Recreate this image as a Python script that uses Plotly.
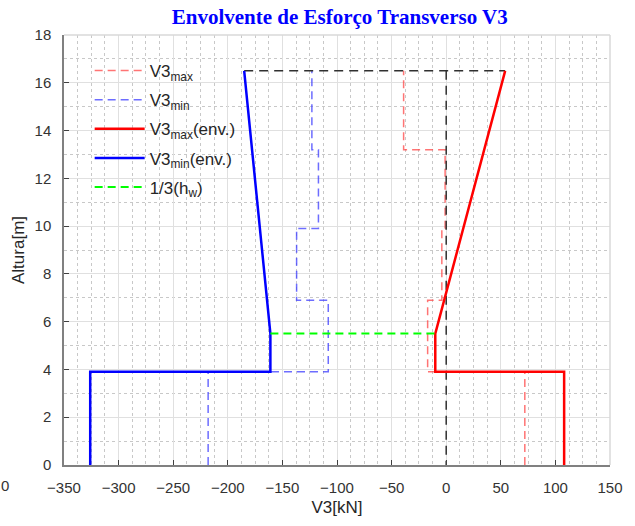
import plotly.graph_objects as go

# Data
v3max_y = [0, 3.9, 3.9, 6.9, 6.9, 9.9, 9.9, 13.2, 13.2, 16.5]
v3max_x = [72, 72, -17, -17, -4, -4, -1, -1, -39, -39]
v3min_y = [0, 3.9, 3.9, 6.9, 6.9, 9.9, 9.9, 13.2, 13.2, 16.5]
v3min_x = [-218, -218, -108, -108, -137, -137, -117, -117, -123, -123]
envmax_y = [0, 3.9, 3.9, 5.5, 16.5]
envmax_x = [108, 108, -10, -10, 54]
envmin_y = [0, 3.9, 3.9, 5.5, 16.5]
envmin_x = [-326, -326, -161, -161, -185]
hw_y = [5.5, 5.5]
hw_x = [-161, -10]
ref_x = [-185, 54, None, 0, 0]
ref_y = [16.5, 16.5, None, 16.5, 0]

FONT = "Liberation Sans, Arial"
fig = go.Figure()
fig.add_trace(go.Scatter(x=v3max_x, y=v3max_y, mode="lines", name="V3<sub>max</sub>", legendgroup="a",
                         line=dict(color="rgba(255,70,70,0.75)", width=1.5, dash="8px,5px")))
fig.add_trace(go.Scatter(x=v3min_x, y=v3min_y, mode="lines", name="V3<sub>min</sub>", legendgroup="b",
                         line=dict(color="rgba(60,60,255,0.75)", width=1.5, dash="8px,5px")))
fig.add_trace(go.Scatter(x=ref_x, y=ref_y, mode="lines", showlegend=False, connectgaps=False,
                         line=dict(color="#303030", width=1.5, dash="9px,6px")))
fig.add_trace(go.Scatter(x=envmax_x, y=envmax_y, mode="lines", name="V3<sub>max</sub>(env.)", legendgroup="c",
                         line=dict(color="#ff0000", width=2.5)))
fig.add_trace(go.Scatter(x=envmin_x, y=envmin_y, mode="lines", name="V3<sub>min</sub>(env.)", legendgroup="d",
                         line=dict(color="#0000ff", width=2.5)))
fig.add_trace(go.Scatter(x=hw_x, y=hw_y, mode="lines", name="1/3(h<sub>w</sub>)", legendgroup="e",
                         line=dict(color="#00ff00", width=2, dash="8px,5px")))

axis_common = dict(
    showline=True, linecolor="#808080", linewidth=1.5, mirror=False,
    ticks="inside", ticklen=5, tickcolor="#404040", tickwidth=1,
    showgrid=True, gridcolor="#e0e0e0", gridwidth=1,
    zeroline=False, ticklabelstandoff=8,
    tickfont=dict(family=FONT, size=15, color="#333333"),
)
fig.update_xaxes(range=[-350, 150], dtick=50, tick0=0,
                 title=dict(text="V3[kN]", font=dict(family=FONT, size=17, color="#262626"), standoff=6),
                 minor=dict(dtick=12.5, showgrid=True, gridcolor="#c8c8c8", griddash="dot", ticks=""),
                 **axis_common)
fig.update_yaxes(range=[0, 18], dtick=2,
                 title=dict(text="Altura[m]", font=dict(family=FONT, size=17, color="#262626"), standoff=6),
                 minor=dict(dtick=1, showgrid=True, gridcolor="#c8c8c8", griddash="dot", ticks=""),
                 **axis_common)

# box edges (top, right)
fig.add_shape(type="line", xref="paper", yref="paper", x0=0, x1=1, y0=1, y1=1,
              line=dict(color="#d8d8d8", width=1.5))
fig.add_shape(type="line", xref="paper", yref="paper", x0=1, x1=1, y0=0, y1=1,
              line=dict(color="#d8d8d8", width=1.5))

fig.add_annotation(text="0", xref="paper", yref="paper", x=-0.1077, y=-0.0487, showarrow=False,
                   xanchor="center", yanchor="middle",
                   font=dict(family=FONT, size=15, color="#333333"))

fig.update_layout(
    width=635, height=526,
    margin=dict(l=64, r=23, t=35, b=60),
    paper_bgcolor="white", plot_bgcolor="white",
    title=dict(text="<b>Envolvente de Esforço Transverso V3</b>", x=0.535, xanchor="center", y=0.968, yanchor="middle",
               font=dict(family="Liberation Serif, Times New Roman", size=21, color="#0000ff")),
    legend=dict(x=0.047, y=0.958, xanchor="left", yanchor="top", bgcolor="rgba(0,0,0,0)",
                font=dict(family=FONT, size=17, color="#262626"),
                tracegroupgap=4, itemwidth=50),
    showlegend=True,
)

fig.write_html("out.html", config={"displayModeBar": False},
               post_script="document.body.style.margin='0';document.body.style.overflow='hidden';")
